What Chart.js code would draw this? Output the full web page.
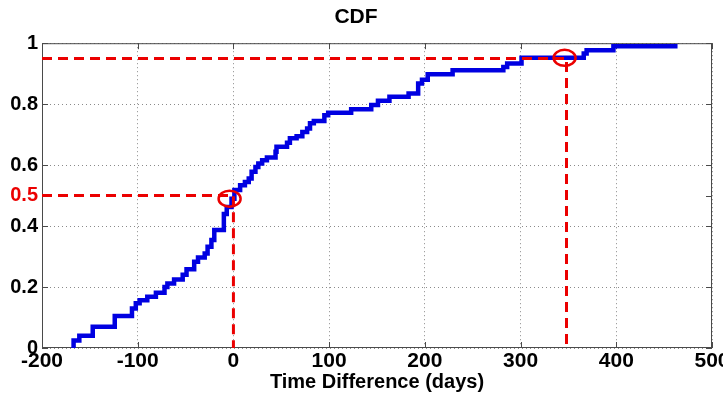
<!DOCTYPE html>
<html><head><meta charset="utf-8">
<script src="https://cdn.jsdelivr.net/npm/chart.js@4"></script>
<style>html,body{margin:0;padding:0;background:#fff}#wrap{width:723px;height:403px}</style>
</head><body><div id="wrap"><canvas id="c" width="723" height="403"></canvas></div>
<script>
// CDF step locations (days) and levels reached at each step
const stepDays  = [-167,-167,-161,-147,-124,-106,-102,-98,-90,-81,-72,-69,-62,-53,-49,-41,-37,-30,-27,-23,-20,-10,-7,-2,1,7,12,16,19,23,26,30,35,44,45,56,59,66,72,77,80,84,95,99,123,144,151,163,183,193,197,203,229,282,286,301,366,369,397,464];
const cdfValues = [0,0.025,0.04,0.07,0.105,0.13,0.147,0.157,0.168,0.181,0.2,0.212,0.225,0.24,0.258,0.283,0.297,0.31,0.332,0.354,0.387,0.44,0.463,0.49,0.518,0.534,0.545,0.556,0.578,0.594,0.605,0.616,0.625,0.644,0.66,0.673,0.688,0.695,0.709,0.72,0.737,0.745,0.764,0.772,0.783,0.797,0.811,0.824,0.835,0.868,0.88,0.898,0.911,0.922,0.933,0.952,0.966,0.977,0.99,0.99];
const xTicks = [-200,-100,0,100,200,300,400,500];
const yTicks = [0,0.2,0.4,0.5,0.6,0.8,1];
const refLevels = [0.5,0.95];
const refDays = [0,348];
const circleDays = [-4,346];
const circleLevels = [0.49,0.952];

const RED = 'rgb(235,0,0)';
const BLUE = 'rgb(0,0,225)';
const FONT = '"Liberation Sans", Arial, sans-serif';

const cdfData = stepDays.map((d,i)=>({x:d,y:cdfValues[i]}));
const refSets = refLevels.map((lv,i)=>({
  data:[{x:xTicks[0],y:lv},{x:refDays[i],y:lv},{x:refDays[i],y:yTicks[0]}],
  borderColor:RED, borderWidth:3, borderDash:[10,6], pointRadius:0, fill:false, tension:0, order:0
}));

const frame = {
  id:'frame',
  beforeDatasetsDraw(chart){
    const {ctx, chartArea:a, scales:{x,y}} = chart;
    ctx.save();
    ctx.strokeStyle='#4a4a4a'; ctx.lineWidth=1;
    ctx.strokeRect(a.left+0.5,a.top+0.5,a.right-a.left-1,a.bottom-a.top-1);
    const L=6;
    ctx.beginPath();
    xTicks.forEach(v=>{const px=Math.round(x.getPixelForValue(v))+0.5;
      ctx.moveTo(px,a.bottom);ctx.lineTo(px,a.bottom-L);
      ctx.moveTo(px,a.top);ctx.lineTo(px,a.top+L);});
    yTicks.forEach(v=>{const py=Math.round(y.getPixelForValue(v))+0.5;
      ctx.moveTo(a.left,py);ctx.lineTo(a.left+L,py);
      ctx.moveTo(a.right,py);ctx.lineTo(a.right-L,py);});
    ctx.stroke();
    ctx.restore();
  },
  afterDatasetsDraw(chart){
    const {ctx, scales:{x,y}} = chart;
    ctx.save();
    ctx.strokeStyle=RED; ctx.lineWidth=2.5;
    circleDays.forEach((d,i)=>{
      ctx.beginPath();
      ctx.ellipse(x.getPixelForValue(d), y.getPixelForValue(circleLevels[i]), 11, 8, 0, 0, Math.PI*2);
      ctx.stroke();
    });
    ctx.restore();
  }
};

new Chart(document.getElementById('c'), {
  type:'line',
  data:{datasets:[...refSets,{
    data:cdfData, borderColor:BLUE, borderWidth:4.5, stepped:'before', pointRadius:0, fill:false, order:1
  }]},
  options:{
    responsive:false, animation:false, devicePixelRatio:1,
    layout:{padding:{left:0,right:11,top:0,bottom:0}},
    plugins:{
      legend:{display:false}, tooltip:{enabled:false},
      title:{display:true, text:'CDF', color:'#000', font:{family:FONT, size:21, weight:'bold', lineHeight:1.2}, padding:{top:5,bottom:13}}
    },
    scales:{
      x:{type:'linear', min:-200, max:500,
        afterBuildTicks:s=>{s.ticks=xTicks.map(v=>({value:v}));},
        afterFit:s=>{s.height=55; s.paddingRight=0; s.paddingLeft=0;},
        ticks:{color:'#000', font:{family:FONT,size:21,weight:'bold'}, padding:1, maxRotation:0, autoSkip:false, callback:v=>String(v)},
        grid:{color:'#8a8a8a', drawTicks:false, lineWidth:1},
        border:{display:false, dash:[1,3]},
        title:{display:true, text:'Time Difference (days)', color:'#000', font:{family:FONT,size:20,weight:'bold',lineHeight:1.2}, padding:{top:0,bottom:9}}
      },
      y:{type:'linear', min:0, max:1,
        afterBuildTicks:s=>{s.ticks=yTicks.map(v=>({value:v}));},
        afterFit:s=>{s.width=42;},
        ticks:{font:{family:FONT,size:20,weight:'bold'}, padding:4, autoSkip:false,
          color:c=>c.tick && c.tick.value===refLevels[0]?RED:'#000', callback:v=>String(v)},
        grid:{color:c=>c.tick && c.tick.value===refLevels[0]?'rgba(0,0,0,0)':'#8a8a8a', drawTicks:false, lineWidth:1},
        border:{display:false, dash:[1,3]}
      }
    }
  },
  plugins:[frame]
});
</script></body></html>
